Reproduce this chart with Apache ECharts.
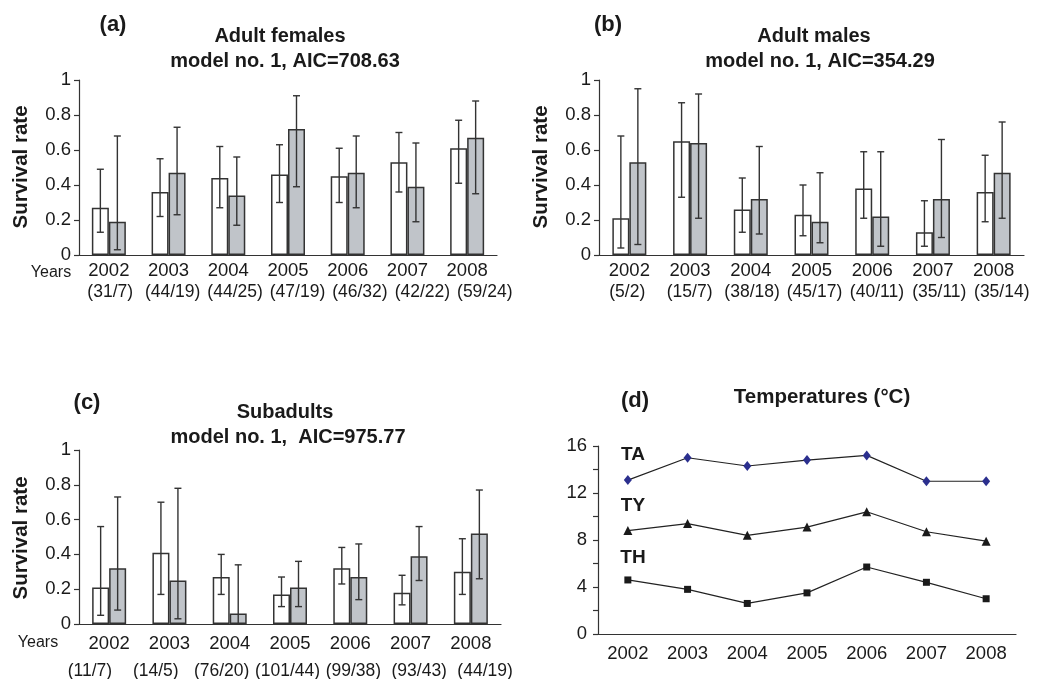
<!DOCTYPE html>
<html>
<head>
<meta charset="utf-8">
<script src="https://cdn.jsdelivr.net/npm/echarts@6/dist/echarts.min.js"></script>
<style>
    html, body {margin: 0; padding: 0; background: #fff;}
    #app {width: 1038px; height: 679px;}
</style>
</head>
<body>
<div id="app"></div>
<script>
//年份与样本量
var years = ['2002', '2003', '2004', '2005', '2006', '2007', '2008']
var femaleCounts = ['(31/7)', '(44/19)', '(44/25)', '(47/19)', '(46/32)', '(42/22)', '(59/24)']
var maleCounts = ['(5/2)', '(15/7)', '(38/18)', '(45/17)', '(40/11)', '(35/11)', '(35/14)']
var subCounts = ['(11/7)', '(14/5)', '(76/20)', '(101/44)', '(99/38)', '(93/43)', '(44/19)']

//(a) adult females
var femaleWhite = [0.27, 0.36, 0.44, 0.46, 0.45, 0.53, 0.61]
var femaleWhiteLow = [0.13, 0.22, 0.27, 0.30, 0.30, 0.36, 0.41]
var femaleWhiteHigh = [0.49, 0.55, 0.62, 0.63, 0.61, 0.70, 0.77]
var femaleGray = [0.19, 0.47, 0.34, 0.72, 0.47, 0.39, 0.67]
var femaleGrayLow = [0.03, 0.23, 0.17, 0.39, 0.27, 0.19, 0.35]
var femaleGrayHigh = [0.68, 0.73, 0.56, 0.91, 0.68, 0.64, 0.88]

//(b) adult males
var maleWhite = [0.21, 0.65, 0.26, 0.23, 0.38, 0.13, 0.36]
var maleWhiteLow = [0.04, 0.33, 0.13, 0.11, 0.21, 0.05, 0.19]
var maleWhiteHigh = [0.68, 0.87, 0.44, 0.40, 0.59, 0.31, 0.57]
var maleGray = [0.53, 0.64, 0.32, 0.19, 0.22, 0.32, 0.47]
var maleGrayLow = [0.06, 0.21, 0.12, 0.07, 0.05, 0.10, 0.21]
var maleGrayHigh = [0.95, 0.92, 0.62, 0.47, 0.59, 0.66, 0.76]

//(c) subadults
var subWhite = [0.21, 0.41, 0.27, 0.17, 0.32, 0.18, 0.30]
var subWhiteLow = [0.05, 0.17, 0.17, 0.10, 0.23, 0.11, 0.17]
var subWhiteHigh = [0.56, 0.70, 0.40, 0.27, 0.44, 0.28, 0.49]
var subGray = [0.32, 0.25, 0.06, 0.21, 0.27, 0.39, 0.52]
var subGrayLow = [0.08, 0.03, 0.00, 0.10, 0.14, 0.25, 0.26]
var subGrayHigh = [0.73, 0.78, 0.34, 0.36, 0.46, 0.56, 0.77]

//(d) temperatures
var tempTA = [13.1, 15.0, 14.3, 14.8, 15.2, 13.0, 13.0]
var tempTY = [8.8, 9.4, 8.4, 9.1, 10.4, 8.7, 7.9]
var tempTH = [4.6, 3.8, 2.6, 3.5, 5.7, 4.4, 3.0]

var FONT = "'Liberation Sans', Arial, sans-serif"
var INK = '#1a1a1a'
var LINE = '#333'
var BAR_W = 17

var chart = echarts.init(document.getElementById('app'))

//误差线
var errorBars = (shift) => {
    return (params, api) => {
        var x = api.value(0)
        var top = api.coord([x, api.value(2)])
        var bot = api.coord([x, api.value(1)])
        var cx = top[0] + shift
        var style = {stroke: LINE, lineWidth: 1.4, fill: null}
        return {
            type: 'group',
            children: [
                {type: 'line', shape: {x1: cx, y1: top[1], x2: cx, y2: bot[1]}, style: style},
                {type: 'line', shape: {x1: cx - 3.5, y1: top[1], x2: cx + 3.5, y2: top[1]}, style: style},
                {type: 'line', shape: {x1: cx - 3.5, y1: bot[1], x2: cx + 3.5, y2: bot[1]}, style: style}
            ]
        }
    }
}

var panelSeries = (i, white, wLow, wHigh, gray, gLow, gHigh) => {
    return [
        {
            type: 'bar', xAxisIndex: i, yAxisIndex: i, barWidth: BAR_W, barGap: '0%',
            itemStyle: {color: '#fff', borderColor: LINE, borderWidth: 1.5},
            data: white, silent: true
        },
        {
            type: 'bar', xAxisIndex: i, yAxisIndex: i, barWidth: BAR_W, barGap: '0%',
            itemStyle: {color: '#c0c4c9', borderColor: LINE, borderWidth: 1.5},
            data: gray, silent: true
        },
        {
            type: 'custom', xAxisIndex: i, yAxisIndex: i, z: 5, silent: true,
            renderItem: errorBars(-BAR_W / 2),
            encode: {x: 0, y: [1, 2]},
            data: years.map((y, k) => [k, wLow[k], wHigh[k]])
        },
        {
            type: 'custom', xAxisIndex: i, yAxisIndex: i, z: 5, silent: true,
            renderItem: errorBars(BAR_W / 2),
            encode: {x: 0, y: [1, 2]},
            data: years.map((y, k) => [k, gLow[k], gHigh[k]])
        }
    ]
}

var yearAxis = (i, margin) => ({
    type: 'category', gridIndex: i, data: years,
    axisLine: {lineStyle: {color: LINE, width: 1.2}},
    axisTick: {length: 5, lineStyle: {color: LINE, width: 1.2}},
    axisLabel: {color: INK, fontSize: 18.5, fontFamily: FONT, margin: margin}
})

var countAxis = (i, labels, margin) => ({
    type: 'category', gridIndex: i, data: labels,
    axisLine: {show: false}, axisTick: {show: false},
    axisLabel: {color: INK, fontSize: 17.5, fontFamily: FONT, margin: margin, interval: 0}
})

var rateAxis = (i) => ({
    type: 'value', gridIndex: i, min: 0, max: 1, interval: 0.2,
    splitLine: {show: false},
    axisLine: {show: true, lineStyle: {color: LINE, width: 1.2}},
    axisTick: {show: true, length: 5, lineStyle: {color: LINE, width: 1.2}},
    axisLabel: {color: INK, fontSize: 18.5, fontFamily: FONT, margin: 8}
})

var text = (t, x, y, size, bold, rotate) => ({
    type: 'text', x: x, y: y, rotation: rotate || 0,
    style: {
        text: t, textAlign: 'center', textVerticalAlign: 'middle', fill: INK,
        font: `${bold ? 'bold ' : ''}${size}px ${FONT}`
    }
})

chart.setOption({
    animation: false,
    grid: [
        {left: 79, top: 80, width: 418, height: 175, outerBoundsMode: 'none'},
        {left: 599, top: 80, width: 425, height: 175, outerBoundsMode: 'none'},
        {left: 79, top: 450, width: 422, height: 174, outerBoundsMode: 'none'},
        {left: 598, top: 446, width: 418, height: 188, outerBoundsMode: 'none'},
        //样本量标签
        {left: 79, top: 250, width: 437, height: 5, outerBoundsMode: 'none'},
        {left: 596, top: 250, width: 437, height: 5, outerBoundsMode: 'none'},
        {left: 57, top: 619, width: 461, height: 5, outerBoundsMode: 'none'}
    ],
    xAxis: [
        yearAxis(0, 6),
        yearAxis(1, 6),
        yearAxis(2, 10),
        yearAxis(3, 10),
        countAxis(4, femaleCounts, 28),
        countAxis(5, maleCounts, 28),
        countAxis(6, subCounts, 38)
    ],
    yAxis: [
        rateAxis(0),
        rateAxis(1),
        rateAxis(2),
        {
            type: 'value', gridIndex: 3, min: 0, max: 16, interval: 2,
            splitLine: {show: false},
            axisLine: {show: true, lineStyle: {color: LINE, width: 1.2}},
            axisTick: {show: true, length: 5, lineStyle: {color: LINE, width: 1.2}},
            axisLabel: {
                color: INK, fontSize: 18.5, fontFamily: FONT, margin: 11,
                formatter: (v) => v % 4 === 0 ? String(v) : ''
            }
        },
        {type: 'value', gridIndex: 4, show: false},
        {type: 'value', gridIndex: 5, show: false},
        {type: 'value', gridIndex: 6, show: false}
    ],
    graphic: [
        text('(a)', 113, 25, 22, true),
        text('Adult females', 280, 36, 20, true),
        text('model no. 1, AIC=708.63', 285, 61, 20, true),
        text('Survival rate', 21, 167, 20.5, true, Math.PI / 2),
        text('Years', 51, 273, 16, false),

        text('(b)', 608, 25, 22, true),
        text('Adult males', 814, 36, 20, true),
        text('model no. 1, AIC=354.29', 820, 61, 20, true),
        text('Survival rate', 541, 167, 20.5, true, Math.PI / 2),

        text('(c)', 87, 403, 22, true),
        text('Subadults', 285, 412, 20, true),
        text('model no. 1,  AIC=975.77', 288, 437, 20, true),
        text('Survival rate', 21, 538, 20.5, true, Math.PI / 2),
        text('Years', 38, 643, 16, false),

        text('(d)', 635, 401, 22, true),
        text('Temperatures (°C)', 822, 397, 20.5, true),
        text('TA', 633, 455, 19, true),
        text('TY', 633, 506, 19, true),
        text('TH', 633, 558, 19, true)
    ],
    series: [].concat(
        panelSeries(0, femaleWhite, femaleWhiteLow, femaleWhiteHigh, femaleGray, femaleGrayLow, femaleGrayHigh),
        panelSeries(1, maleWhite, maleWhiteLow, maleWhiteHigh, maleGray, maleGrayLow, maleGrayHigh),
        panelSeries(2, subWhite, subWhiteLow, subWhiteHigh, subGray, subGrayLow, subGrayHigh),
        [
            {
                name: 'TA', type: 'line', xAxisIndex: 3, yAxisIndex: 3, data: tempTA,
                symbol: 'diamond', symbolSize: [8, 10],
                itemStyle: {color: '#2b2f8e'}, lineStyle: {color: '#222', width: 1.2}
            },
            {
                name: 'TY', type: 'line', xAxisIndex: 3, yAxisIndex: 3, data: tempTY,
                symbol: 'triangle', symbolSize: 9,
                itemStyle: {color: '#1a1a1a'}, lineStyle: {color: '#222', width: 1.2}
            },
            {
                name: 'TH', type: 'line', xAxisIndex: 3, yAxisIndex: 3, data: tempTH,
                symbol: 'rect', symbolSize: 7,
                itemStyle: {color: '#1a1a1a'}, lineStyle: {color: '#222', width: 1.2}
            }
        ]
    )
})
</script>
</body>
</html>
